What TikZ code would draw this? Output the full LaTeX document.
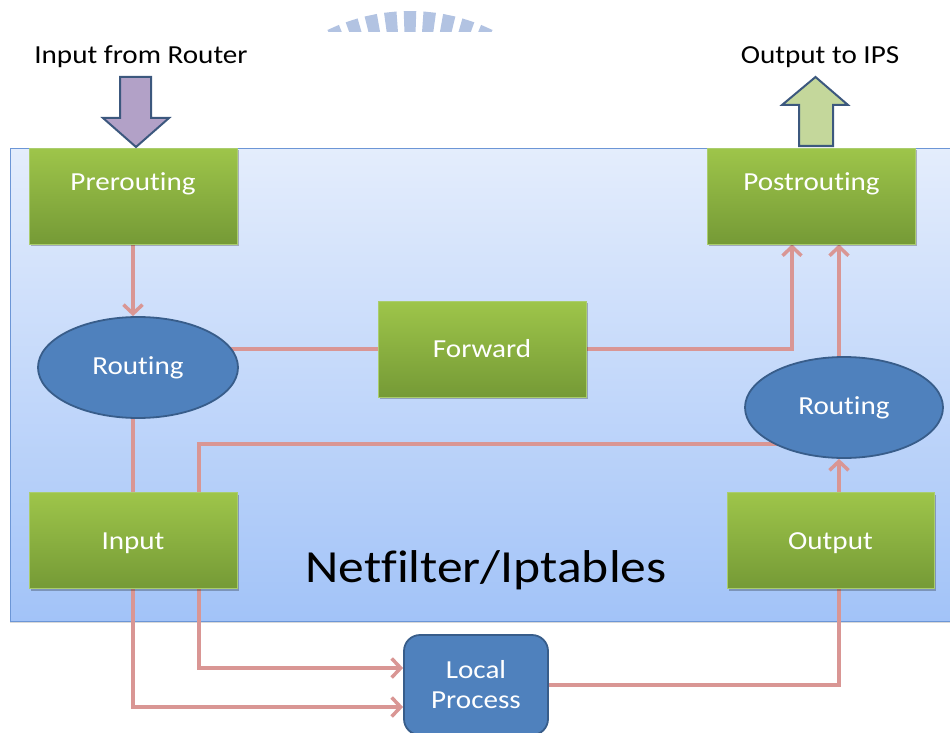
\documentclass[tikz,border=0pt]{standalone}
\usepackage{fontspec}
\setmainfont{Carlito}[FakeStretch=1.12, Ligatures=NoCommon]
\usetikzlibrary{arrows.meta,shapes.geometric,shadows,calc}

\definecolor{gTop}{RGB}{158,197,74}
\definecolor{gBot}{RGB}{117,154,54}
\definecolor{gEdge}{RGB}{170,205,110}
\definecolor{ovalFill}{RGB}{79,129,189}
\definecolor{ovalEdge}{RGB}{56,93,138}
\definecolor{wireCol}{RGB}{217,150,148}
\definecolor{panelTop}{RGB}{228,237,252}
\definecolor{panelBot}{RGB}{162,195,248}
\definecolor{panelEdge}{RGB}{108,150,214}
\definecolor{purpleFill}{RGB}{178,161,199}
\definecolor{limeFill}{RGB}{196,215,155}
\definecolor{arrowEdge}{RGB}{60,88,126}
\definecolor{markBlue}{RGB}{178,195,226}

\newcommand\boxfont{\fontsize{26pt}{30pt}\selectfont}
\newcommand\titlefont{\fontsize{46pt}{50pt}\selectfont}

\pgfdeclarelayer{back}
\pgfdeclarelayer{wires}
\pgfsetlayers{back,wires,main}

\begin{document}
\begin{tikzpicture}[x=1pt,y=-1pt,
  chainbox/.style={rectangle, inner sep=0pt, minimum width=208pt, minimum height=96pt,
    top color=gTop, bottom color=gBot, draw=gEdge, line width=0.6pt,
    text=white, font=\boxfont, text height=56.5pt, text depth=39.5pt,
    drop shadow={shadow xshift=1.5pt, shadow yshift=-2pt, opacity=0.25, fill=black}},
  highlabel/.style={text height=42.5pt, text depth=53.5pt},
  routeoval/.style={ellipse, inner sep=0pt, minimum width=200pt, minimum height=101pt,
    fill=ovalFill, draw=ovalEdge, line width=1.8pt, text=white, font=\boxfont},
  procbox/.style={rectangle, rounded corners=16pt, inner sep=0pt, minimum width=144pt,
    minimum height=100pt, fill=ovalFill, draw=ovalEdge, line width=1.8pt,
    text=white, font=\boxfont, align=center},
  wire/.style={draw=wireCol, line width=3.5pt},
  flow/.style={wire, -{Straight Barb[length=9pt,width=19pt]}},
  blockarrow/.style={draw=arrowEdge, line width=2pt, line join=miter},
  caption/.style={font=\boxfont, text=black, inner sep=0pt}
]
\useasboundingbox (0,0) rectangle (950,733);

% logo fragment at the top edge
\begin{scope}
  \clip (300,0) rectangle (520,32);
  \foreach \k in {-4,...,4} {
    \fill[markBlue] (410,200) -- ($(410,200)+({-91.9+6*\k}:189)$)
                    -- ($(410,200)+({-88.1+6*\k}:189)$) -- cycle;
  }
\end{scope}

% Netfilter panel
\begin{pgfonlayer}{back}
  \node[rectangle, inner sep=0pt, minimum width=950pt, minimum height=473pt,
        top color=panelTop, bottom color=panelBot, draw=panelEdge, line width=1pt,
        drop shadow={shadow xshift=0pt, shadow yshift=-2pt, opacity=0.15, fill=black}]
        (panel) at (485,384.5) {};
\end{pgfonlayer}

% chains and routing decisions
\node[chainbox, highlabel] (pre)  at (133,196)   {Prerouting};
\node[chainbox, highlabel] (post) at (811.5,196) {Postrouting};
\node[chainbox]            (fwd)  at (482,349)   {Forward};
\node[chainbox]            (inp)  at (133,540.5) {Input};
\node[chainbox, minimum width=207pt] (outp) at (830.5,540.5) {Output};
\node[routeoval] (rtL) at (138,367.5) {Routing};
\node[routeoval, minimum width=198pt] (rtR) at (844,407.5) {Routing};
\node[procbox] (lp) at (476,685) {Local\\Process};

\node[caption] (title) at (486,570) {\titlefont Netfilter/Iptables};
\node[caption] (inLbl)  at (141,57) {Input from Router};
\node[caption] (outLbl) at (820,57) {Output to IPS};

% packet entry and exit
\filldraw[blockarrow, fill=purpleFill]
  (120,77) -- (151,77) -- (151,118) -- (169,118) -- (136,147) -- (103,118) -- (120,118) -- cycle;
\filldraw[blockarrow, fill=limeFill]
  (799,146) -- (833,146) -- (833,105) -- (848,105) -- (815.5,77) -- (782,105) -- (799,105) -- cycle;

% packet paths
\coordinate (pA) at ([xshift=-19.5pt]post.south);
\coordinate (pB) at ([xshift=27.5pt]post.south);
\begin{pgfonlayer}{wires}
  \draw[flow] (pre.south) -- (pre.south |- rtL.north);
  \draw[wire] (rtL.center |- fwd.west) -- (fwd.west);
  \draw[flow] (fwd.east) -| (pA);
  \draw[flow] (rtR.north -| pB) -- (pB);
  \draw[flow] (outp.north -| pB) -- (rtR.south -| pB);
  \draw[flow] (rtL.south -| pre.south) |- ([yshift=-22pt]lp.west);
  \draw[flow] ([yshift=-36.5pt]rtR.center) -| ([xshift=66pt]inp.center)
              |- ([yshift=17pt]lp.west);
  \draw[wire] (lp.east) -| (outp.south -| pB);
\end{pgfonlayer}
\end{tikzpicture}
\end{document}
